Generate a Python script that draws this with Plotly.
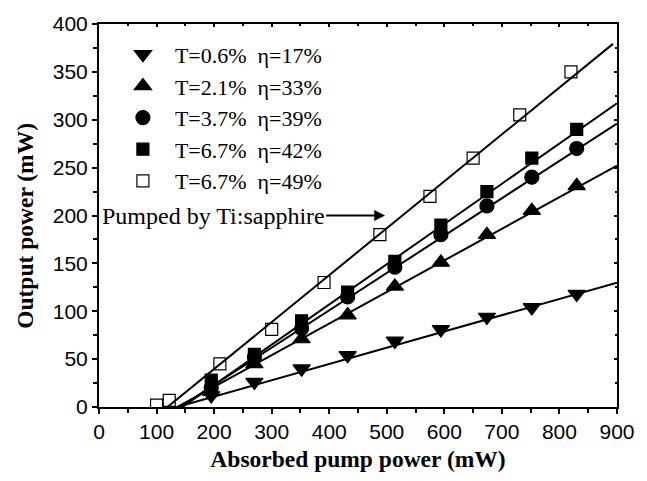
import plotly.graph_objects as go
import numpy as np

# ---- data ----
labels = ["T=0.6%\u00a0\u00a0η=17%", "T=2.1%\u00a0\u00a0η=33%", "T=3.7%\u00a0\u00a0η=39%",
          "T=6.7%\u00a0\u00a0η=42%", "T=6.7%\u00a0\u00a0η=49%"]
symbols = ["triangle-down", "triangle-up", "circle", "square", "square-open"]
sizes = [15, 15, 14, 12, 12]

x_s1 = [195, 270, 352, 432, 514, 594, 674, 752, 830]
y_s1 = [12, 26, 40, 54, 69, 81, 94, 104, 118]
x_s2 = [195, 270, 352, 432, 514, 594, 674, 752, 830]
y_s2 = [16, 45, 71, 96, 126, 151, 180, 205, 231]
x_s3 = [195, 270, 352, 432, 514, 594, 674, 752, 830]
y_s3 = [20, 52, 82, 115, 146, 180, 210, 240, 270]
x_s4 = [195, 270, 352, 432, 514, 594, 674, 752, 830]
y_s4 = [28, 55, 90, 120, 152, 190, 225, 260, 290]
x_s5 = [100, 122, 210, 300, 391, 488, 575, 650, 731, 820]
y_s5 = [2, 7, 45, 81, 130, 180, 220, 260, 305, 350]

slopes = [0.17, 0.33, 0.39, 0.42, 0.49]
thresholds = [136, 136, 141, 145, 119]
fit_end = [900, 900, 900, 900, 893]

xs = [x_s1, x_s2, x_s3, x_s4, x_s5]
ys = [y_s1, y_s2, y_s3, y_s4, y_s5]

fig = go.Figure()
serif = "Liberation Serif"
sans = "Liberation Sans"

for i in range(5):
    xf = np.array([thresholds[i] - 5, fit_end[i]])
    yf = slopes[i] * (xf - thresholds[i])
    fig.add_trace(go.Scatter(x=xf, y=yf, mode="lines", line=dict(color="black", width=2),
                             showlegend=False, hoverinfo="skip"))

for i in range(5):
    fig.add_trace(go.Scatter(x=xs[i], y=ys[i], mode="markers", name=labels[i],
                             marker=dict(symbol=symbols[i], size=sizes[i], color="black",
                                         line=dict(color="black", width=1.2))))

# dummy trace for mirror axes
fig.add_trace(go.Scatter(x=[None], y=[None], xaxis="x2", yaxis="y2", showlegend=False))

axcommon = dict(showline=True, linewidth=2, linecolor="black", showgrid=False, zeroline=False)
fig.update_layout(
    width=647, height=481,
    margin=dict(l=99, r=30, t=18, b=74),
    paper_bgcolor="white", plot_bgcolor="white",
    xaxis=dict(range=[0, 900], dtick=100, ticks="outside", ticklen=5, tickwidth=2,
               tickcolor="black",
               minor=dict(dtick=50, ticks="outside", ticklen=4, tickwidth=2, tickcolor="black"),
               tickfont=dict(family=sans, size=21, color="black"),
               title=dict(text="<b>Absorbed pump power (mW)</b>",
                          font=dict(family=serif, size=23.5, color="black"), standoff=8),
               **axcommon),
    yaxis=dict(range=[0, 400], dtick=50, ticks="outside", ticklen=5, tickwidth=2,
               tickcolor="black",
               minor=dict(dtick=25, ticks="outside", ticklen=4, tickwidth=2, tickcolor="black"),
               tickfont=dict(family=sans, size=21, color="black"),
               **axcommon),
    xaxis2=dict(range=[0, 900], dtick=100, overlaying="x", side="top", ticks="inside",
                ticklen=3, tickwidth=2, tickcolor="black", showticklabels=False,
                minor=dict(dtick=50, ticks="inside", ticklen=2, tickwidth=2, tickcolor="black"),
                **axcommon),
    yaxis2=dict(range=[0, 400], dtick=50, overlaying="y", side="right", ticks="inside",
                ticklen=3, tickwidth=2, tickcolor="black", showticklabels=False,
                minor=dict(dtick=25, ticks="inside", ticklen=2, tickwidth=2, tickcolor="black"),
                **axcommon),
    legend=dict(x=0.023, y=0.975, xanchor="left", yanchor="top", bgcolor="rgba(0,0,0,0)",
                font=dict(family=serif, size=22, color="black"), tracegroupgap=0,
                itemwidth=54),
    showlegend=True,
)

fig.add_annotation(xref="x domain", yref="y domain", x=(25 - 99) / 518, y=(407 - 223) / 389,
                   xanchor="center", yanchor="middle", text="<b>Output power (mW)</b>",
                   showarrow=False, textangle=-90,
                   font=dict(family=serif, size=23.5, color="black"))

fig.add_annotation(x=497, y=200, xref="x", yref="y", ax=-172, ay=0, axref="pixel", ayref="pixel",
                   text="Pumped by Ti:sapphire", showarrow=True, arrowhead=2, arrowsize=1.2,
                   arrowwidth=1.8, arrowcolor="black",
                   font=dict(family=serif, size=24, color="black"))

fig.write_html("out.html")
